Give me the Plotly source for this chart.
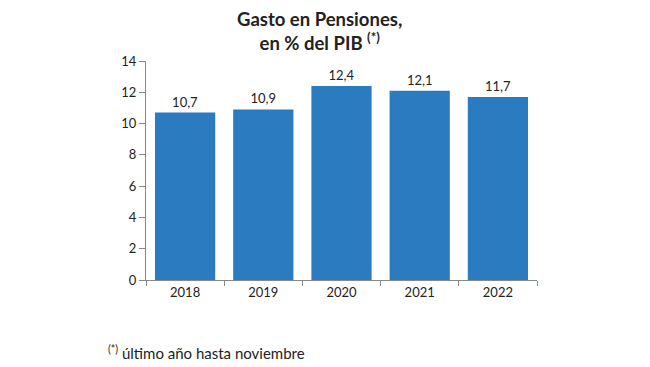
import plotly.graph_objects as go

years = ["2018", "2019", "2020", "2021", "2022"]
gasto = [10.7, 10.9, 12.4, 12.1, 11.7]
labels = ["10,7", "10,9", "12,4", "12,1", "11,7"]
y_ticks = [0, 2, 4, 6, 8, 10, 12, 14]

# page has an 8px body margin, so figure is drawn at (8, 8)
OFF = 8
W, H = 650 - OFF, 367 - OFF
L, R, T, B = 146 - OFF, 113, 61 - OFF, 87
PW, PH = W - L - R, H - T - B

fig = go.Figure(go.Bar(
    x=years, y=gasto, text=labels, textposition="outside",
    textfont=dict(size=13, color="#222"),
    marker=dict(color="#2B7BC1", line=dict(width=0)),
    cliponaxis=False,
))

fig.update_layout(
    width=W, height=H,
    margin=dict(l=L, r=R, t=T, b=B),
    paper_bgcolor="white", plot_bgcolor="white",
    bargap=0.23,
    font=dict(family="Lato, Open Sans, sans-serif", color="#222"),
    showlegend=False,
)
fig.update_yaxes(
    range=[0, 14], tickvals=y_ticks, showgrid=False, zeroline=False,
    showline=True, linecolor="#888", linewidth=1,
    ticks="outside", ticklen=6, tickcolor="#888",
    tickfont=dict(size=13, color="#222"),
)
fig.update_xaxes(
    showgrid=False, showline=True, linecolor="#888", linewidth=1,
    ticks="outside", ticklen=5, tickcolor="#888", tickson="boundaries",
    tickfont=dict(size=13, color="#222"),
)

fig.add_annotation(
    text="<b>Gasto en Pensiones,</b><br><b>en % del PIB <sup>(*)</sup></b>",
    xref="paper", yref="paper",
    x=(319 - OFF - L) / PW, y=1 + (T + 2) / PH,
    xanchor="center", yanchor="top", showarrow=False,
    font=dict(size=18.5, color="#222"), align="center",
)
fig.add_annotation(
    text="<sup>(*)</sup> último año hasta noviembre",
    xref="paper", yref="paper",
    x=(106 - OFF - L) / PW, y=-(352 - OFF - (H - B)) / PH,
    xanchor="left", yanchor="middle", showarrow=False,
    font=dict(size=15, color="#222"),
)

fig.write_html("out.html")
